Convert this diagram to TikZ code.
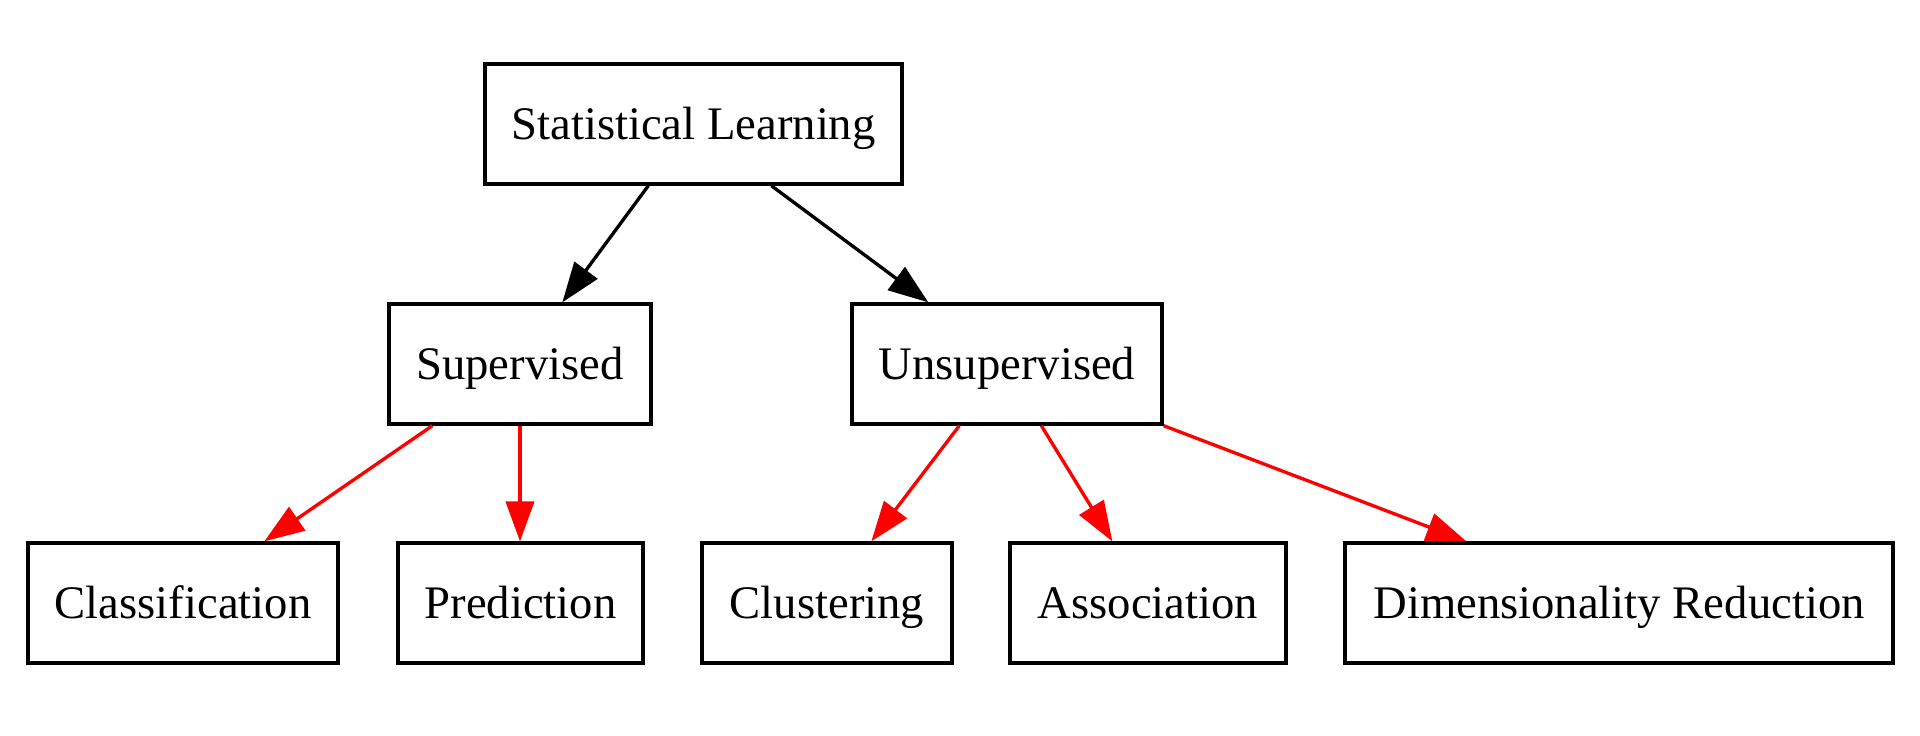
\documentclass[tikz,border=0pt]{standalone}
\usepackage{fontspec}
\setmainfont{Liberation Serif}
\usetikzlibrary{arrows.meta}
\begin{document}
\begin{tikzpicture}[x=1pt,y=1pt,
  box/.style={draw=black, line width=1pt, rectangle, minimum height=36pt, inner sep=0pt, text height=12pt, text depth=3pt, font=\fontsize{14}{16}\selectfont},
  blk/.style={draw=black, line width=1pt, -{Triangle[length=12pt,width=8.5pt]}},
  redarr/.style={draw=red, line width=1pt, -{Triangle[length=12pt,width=8.5pt]}}]
\useasboundingbox (0,0) rectangle (576,-220.5);
\node[box, minimum width=125.1pt] (sl)    at (208.05,-37.2) {Statistical Learning};
\node[box, minimum width=78.6pt]  (sup)   at (156,-109.2)   {Supervised};
\node[box, minimum width=93pt]    (unsup) at (302.1,-109.2) {Unsupervised};
\node[box, minimum width=93pt]    (cls)   at (54.9,-180.9)  {Classification};
\node[box, minimum width=73.5pt]  (pred)  at (156.15,-180.9){Prediction};
\node[box, minimum width=75pt]    (clu)   at (248.1,-180.9) {Clustering};
\node[box, minimum width=82.8pt]  (assoc) at (344.4,-180.9) {Association};
\node[box, minimum width=164.4pt] (dr)    at (485.7,-180.9) {Dimensionality Reduction};
\draw[blk] ([xshift=49.5pt]sl.south west) -- ([xshift=52.5pt]sup.north west);
\draw[blk] ([xshift=86.4pt]sl.south west) -- ([xshift=23.4pt]unsup.north west);
\draw[redarr] ([xshift=13.5pt]sup.south west) -- ([xshift=71.4pt]cls.north west);
\draw[redarr] (sup.south) -- (sup.south |- pred.north);
\draw[redarr] ([xshift=32.7pt]unsup.south west) -- ([xshift=51.3pt]clu.north west);
\draw[redarr] ([xshift=57.3pt]unsup.south west) -- ([xshift=31.2pt]assoc.north west);
\draw[redarr] (unsup.south east) -- ([xshift=36.9pt]dr.north west);
\end{tikzpicture}
\end{document}
